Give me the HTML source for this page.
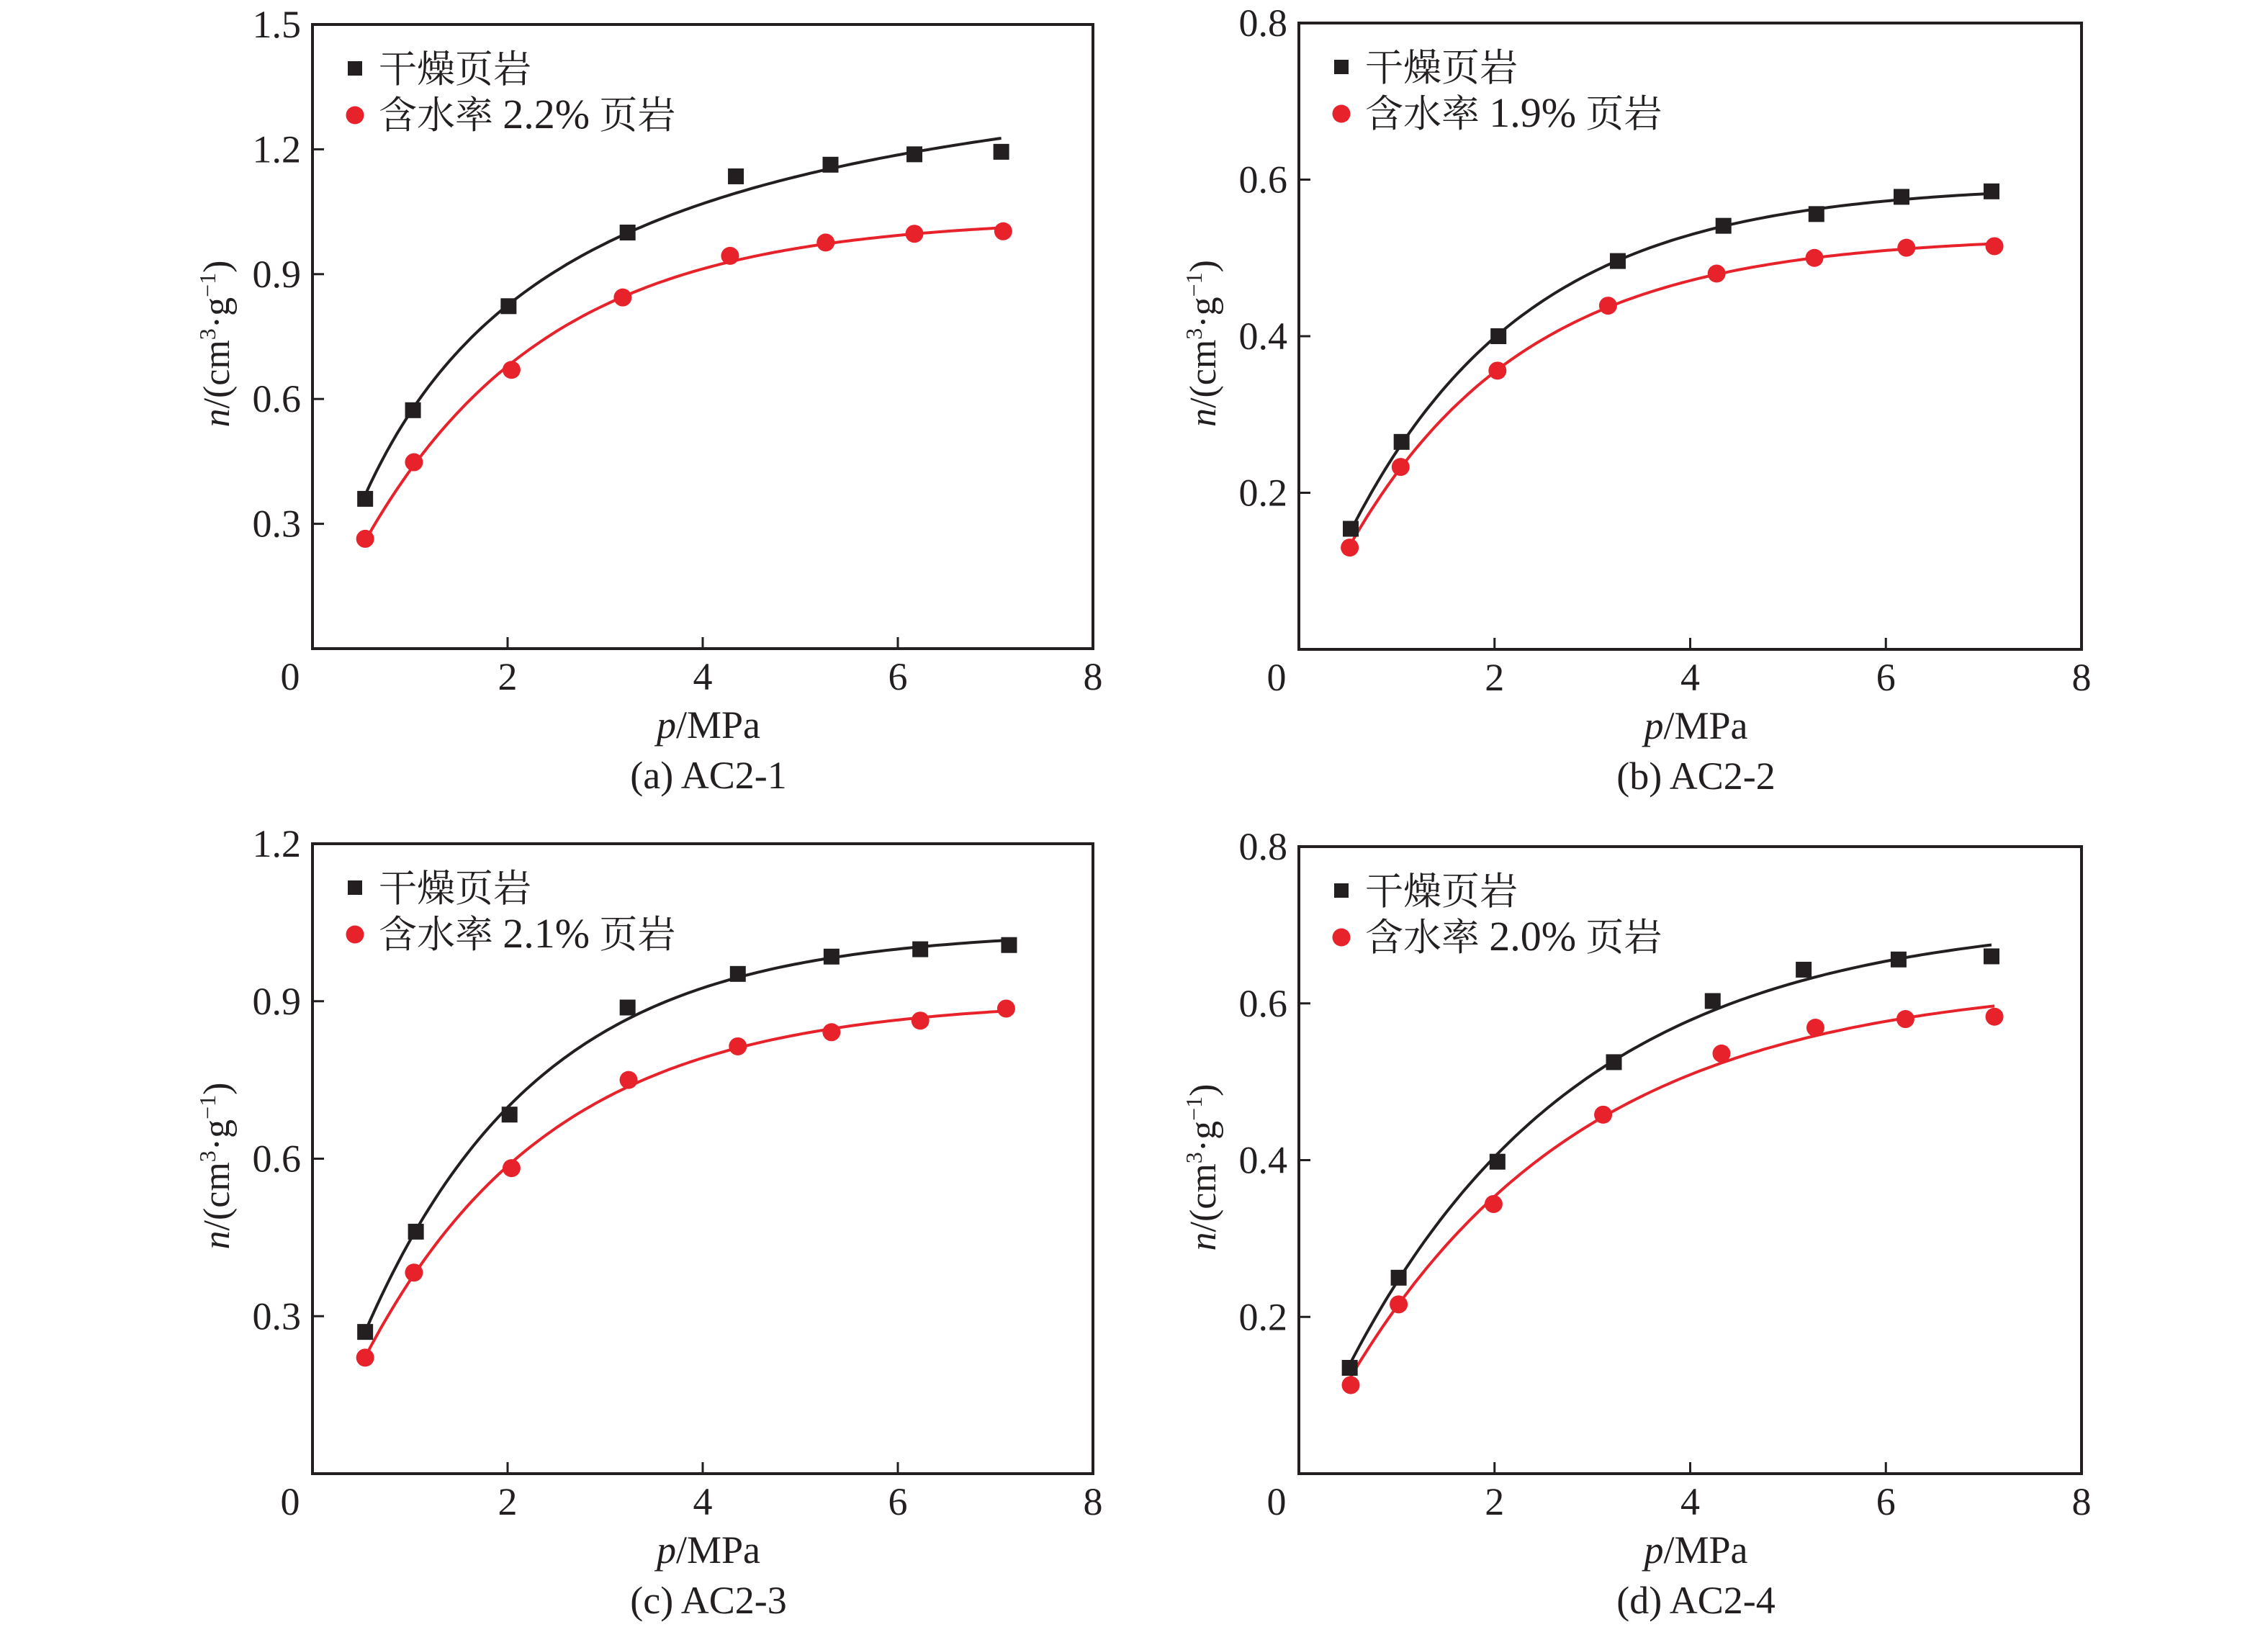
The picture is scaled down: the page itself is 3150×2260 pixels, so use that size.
<!DOCTYPE html>
<html><head><meta charset="utf-8"><style>
html,body{margin:0;padding:0;background:#fff;}
svg{display:block;}
text{font-family:"Liberation Serif","Noto Serif CJK SC",serif;fill:#231f20;}
</style></head><body>
<svg id="fig" width="3150" height="2260" viewBox="0 0 3150 2260" xmlns="http://www.w3.org/2000/svg"></svg>
<script>
// ---- data ----
const xTicks = [0,2,4,6,8];
const yTicksA = [0.3,0.6,0.9,1.2,1.5];
const yTicksB = [0.2,0.4,0.6,0.8];
const yTicksC = [0.3,0.6,0.9,1.2];
const yTicksD = [0.2,0.4,0.6,0.8];

const aDryP = [0.54,1.03,2.01,3.23,4.34,5.31,6.17,7.06];
const aDryN = [0.36,0.573,0.823,1.0,1.135,1.163,1.188,1.194];
const aWetP = [0.54,1.04,2.04,3.18,4.28,5.26,6.17,7.08];
const aWetN = [0.264,0.448,0.67,0.844,0.944,0.976,0.997,1.003];

const bDryP = [0.53,1.05,2.04,3.26,4.34,5.29,6.16,7.08];
const bDryN = [0.154,0.265,0.4,0.496,0.541,0.556,0.578,0.585];
const bWetP = [0.52,1.04,2.03,3.16,4.27,5.27,6.21,7.11];
const bWetN = [0.13,0.233,0.356,0.439,0.48,0.5,0.513,0.515];

const cDryP = [0.54,1.06,2.02,3.23,4.36,5.32,6.23,7.14];
const cDryN = [0.27,0.461,0.684,0.888,0.952,0.985,0.999,1.007];
const cWetP = [0.54,1.04,2.04,3.24,4.36,5.32,6.23,7.11];
const cWetN = [0.221,0.383,0.582,0.75,0.814,0.841,0.863,0.886];

const dDryP = [0.52,1.02,2.03,3.22,4.23,5.16,6.13,7.08];
const dDryN = [0.135,0.25,0.398,0.525,0.603,0.643,0.656,0.66];
const dWetP = [0.53,1.02,1.99,3.11,4.32,5.28,6.2,7.11];
const dWetN = [0.113,0.216,0.344,0.458,0.536,0.569,0.58,0.583];

const wetLabels = ["含水率 2.2% 页岩","含水率 1.9% 页岩","含水率 2.1% 页岩","含水率 2.0% 页岩"];
const captions = ["(a) AC2-1","(b) AC2-2","(c) AC2-3","(d) AC2-4"];

const NS="http://www.w3.org/2000/svg";
const svg=document.getElementById('fig');
function mk(tag,attrs,parent){const e=document.createElementNS(NS,tag);for(const k in attrs)e.setAttribute(k,attrs[k]);(parent||svg).appendChild(e);return e;}

const BLACK="#231f20", RED="#e8222b";

// least-squares fit: Langmuir or exponential saturation, whichever fits better
function fitModel(P,N){
  const models=[(b,p)=>b*p/(1+b*p),(b,p)=>1-Math.exp(-b*p)];
  let best=null;
  models.forEach(m=>{
    for(let b=0.02;b<5;b*=1.01){
      let sfn=0,sff=0;
      P.forEach((p,i)=>{const f=m(b,p);sfn+=f*N[i];sff+=f*f;});
      const V=sfn/sff;
      let sse=0;P.forEach((p,i)=>{const r=N[i]-V*m(b,p);sse+=r*r;});
      if(!best||sse<best.sse)best={sse,fn:p=>V*m(b,p)};
    }
  });
  return best.fn;
}

function panel(idx,L,R,T,B,yMax,yTicks,dryP,dryN,wetP,wetN){
  const g=mk('g',{});
  
  
  const sx=v=>L+(v/8)*(R-L);
  const sy=v=>B-(v/yMax)*(B-T);
  const frame=mk('rect',{x:L,y:T,width:R-L,height:B-T,fill:'none',stroke:BLACK,'stroke-width':4},g);
  
  
  xTicks.forEach(t=>{
    const x=sx(t);
    if(t>0&&t<8){const l=mk('line',{x1:x,y1:B,x2:x,y2:B-16,stroke:BLACK,'stroke-width':3},g);
      
      }
    const tx=mk('text',{x:t===0?x-31:x,y:B+57,'font-size':54,'text-anchor':'middle'},g);
    tx.textContent=String(t);
    
    
  });
  yTicks.forEach(t=>{
    const y=sy(t);
    if(t<yMax){const l=mk('line',{x1:L,y1:y,x2:L+16,y2:y,stroke:BLACK,'stroke-width':3},g);
      
      }
    const tx=mk('text',{x:L-16,y:y+18,'font-size':54,'text-anchor':'end'},g);
    tx.textContent=t.toFixed(1);
    
    
  });
  const cx=(L+R)/2;
  const xt=mk('text',{x:cx+8,y:B+124,'font-size':54,'text-anchor':'middle'},g);
  xt.innerHTML='<tspan font-style="italic">p</tspan>/MPa';
  
  
  const cap=mk('text',{x:cx+8,y:B+194,'font-size':54,'text-anchor':'middle'},g);
  cap.textContent=captions[idx];
  
  
  const yc=(T+B)/2+10;
  const yt=mk('text',{x:0,y:0,'font-size':52,'text-anchor':'middle',transform:`translate(${L-116},${yc}) rotate(-90)`},g);
  yt.innerHTML='<tspan font-style="italic">n</tspan>/(cm<tspan font-size="32" dy="-19">3</tspan><tspan dy="19">·g</tspan><tspan font-size="32" dy="-19">−1</tspan><tspan dy="19">)</tspan>';
  
  

  function curve(P,N,col,name){
    const f=fitModel(P,N);
    const p0=P[0],p1=P[P.length-1];
    let d='';
    for(let i=0;i<=120;i++){const p=p0+(p1-p0)*i/120;d+=(i?'L':'M')+sx(p).toFixed(1)+','+sy(f(p)).toFixed(1);}
    const c=mk('path',{d,fill:'none',stroke:col,'stroke-width':4},g);
    
    
  }
  curve(dryP,dryN,BLACK,'dry-fit-curve');
  curve(wetP,wetN,RED,'wet-fit-curve');
  dryP.forEach((p,i)=>{
    const r=mk('rect',{x:sx(p)-11,y:sy(dryN[i])-11,width:22,height:22,fill:BLACK},g);
    
    
  });
  wetP.forEach((p,i)=>{
    const c=mk('circle',{cx:sx(p),cy:sy(wetN[i]),r:12.5,fill:RED},g);
    
    
  });
  // legend
  const lg=mk('g',{},g);
  
  
  const s=mk('rect',{x:L+49,y:T+51,width:20,height:20,fill:BLACK},lg);
  
  
  const t1=mk('text',{x:L+92,y:T+80,'font-size':53},lg);
  t1.textContent='干燥页岩';
  
  
  const c=mk('circle',{cx:L+59,cy:T+126,r:12.5,fill:RED},lg);
  
  
  const t2=mk('text',{x:L+92,y:T+144,'font-size':53},lg);
  t2.innerHTML='含水率 <tspan font-size="58">'+wetLabels[idx].split(' ')[1]+'</tspan> 页岩';
  
  
}

panel(0,434,1518,34,901,1.5,yTicksA,aDryP,aDryN,aWetP,aWetN);
panel(1,1804,2891,32,902,0.8,yTicksB,bDryP,bDryN,bWetP,bWetN);
panel(2,434,1518,1172,2047,1.2,yTicksC,cDryP,cDryN,cWetP,cWetN);
panel(3,1804,2891,1176,2047,0.8,yTicksD,dDryP,dDryN,dWetP,dWetN);
</script>
</body></html>
